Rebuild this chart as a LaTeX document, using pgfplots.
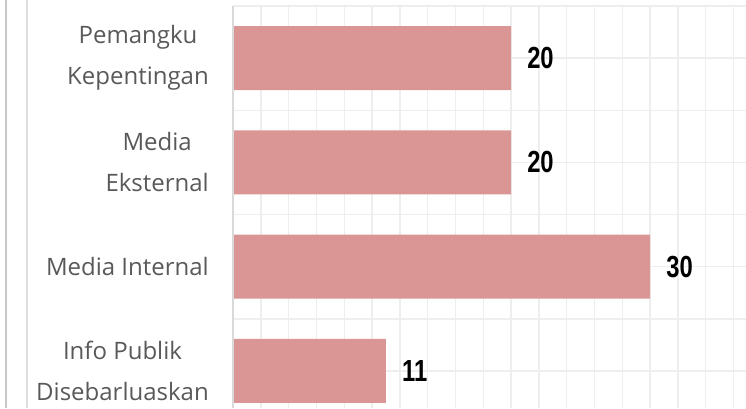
\documentclass[border=0pt]{standalone}
\usepackage{pgfplots}
\pgfplotsset{compat=1.18}
\usepackage{fontspec}
\setmainfont{Open Sans}
\newfontfamily\valfont{Liberation Sans}[FakeStretch=0.78]
\definecolor{barcol}{RGB}{218,150,148}
\definecolor{gridcol}{RGB}{238,238,238}
\definecolor{labcol}{RGB}{89,89,89}
\begin{document}
\begin{tikzpicture}
\useasboundingbox (0,0) rectangle (746pt,408pt);
\draw[color={rgb,255:red,200;green,200;blue,200}, line width=1.5pt] (6pt,0) -- (6pt,408pt);
\draw[color={rgb,255:red,222;green,222;blue,222}, line width=1.5pt] (27pt,0) -- (27pt,408pt);
\begin{axis}[
  at={(233pt,0pt)}, anchor=south west,
  scale only axis, width=513pt, height=402pt,
  xbar, bar width=0.614,
  xmin=0, xmax=36.9, ymin=-0.355, ymax=3.5,
  axis line style={draw=none}, tick style={draw=none},
  xtick={0,2,...,36}, xticklabels={},
  ytick={0,1,2,3},
  yticklabels={{Info Publik\\Disebarluaskan},{Media Internal},{Media\\Eksternal},{Pemangku\\Kepentingan}},
  minor ytick={-0.5,0.5,1.5,2.5,3.5},
  xmajorgrids, ymajorgrids, yminorgrids,
  grid style={draw=gridcol, line width=1.4pt},
  minor grid style={draw=gridcol, line width=1.4pt},
  major tick length=0pt, minor tick length=0pt,
  yticklabel style={align=center, text=labcol, font=\fontsize{24}{41}\selectfont, inner sep=0pt, xshift=-24pt},
  nodes near coords={\valfont\bfseries\fontsize{30.5}{30.5}\selectfont\pgfmathprintnumber[assume math mode=true]{\pgfplotspointmeta}},
  every node near coord/.append style={text=black, anchor=west, inner sep=0pt, xshift=16pt},
  clip=false,
]
\addplot[fill=barcol, draw=none] coordinates {(11,0) (30,1) (20,2) (20,3)};
\draw[color={rgb,255:red,217;green,217;blue,217}, line width=1.5pt] (axis cs:0,-0.355) -- (axis cs:0,3.5);
\end{axis}
\end{tikzpicture}
\end{document}
